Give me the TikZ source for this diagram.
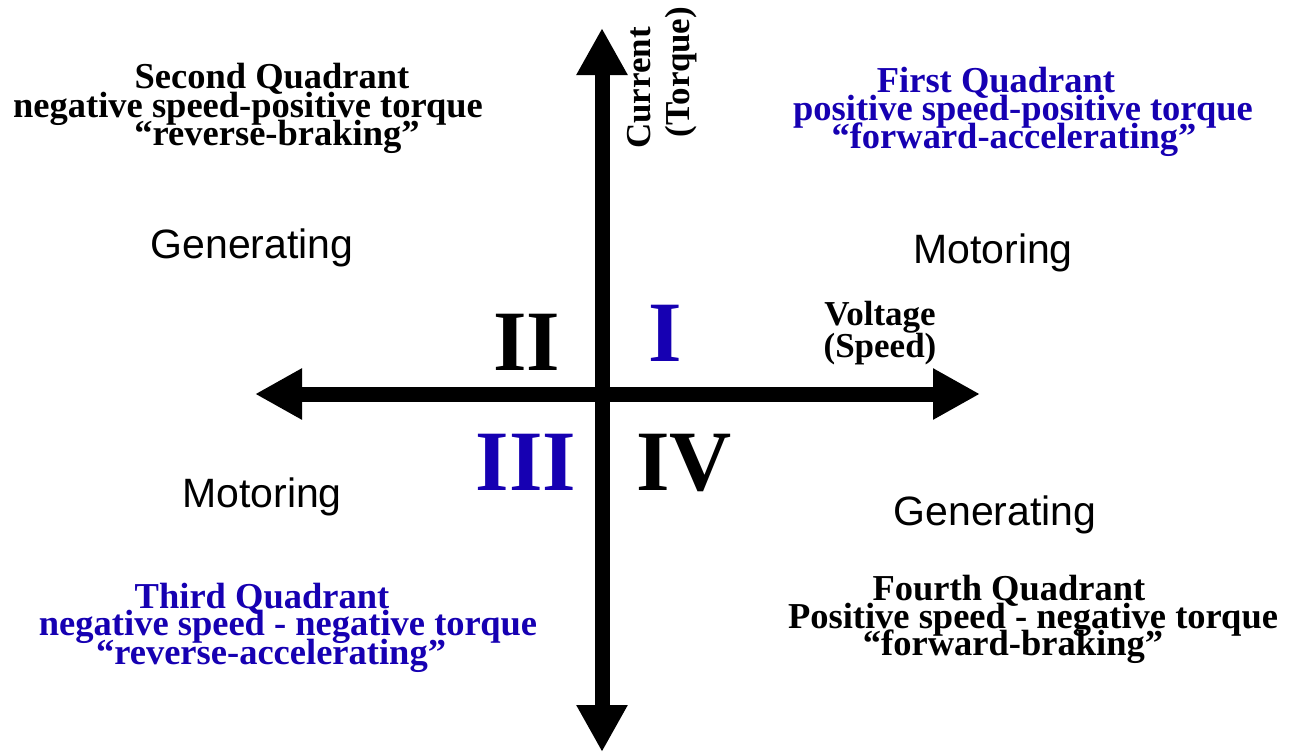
\documentclass[tikz,border=0pt]{standalone}
\usepackage{fontspec}
\setmainfont{Liberation Serif}
\setsansfont{Liberation Sans}
\usetikzlibrary{arrows.meta}
\definecolor{qblue}{RGB}{22,0,178}
\tikzset{
  axis/.style={line width=15pt, {Triangle[length=47pt,width=48pt]}-{Triangle[length=47pt,width=48pt]}},
  qtext/.style={inner sep=0pt, anchor=base, font=\fontsize{36.5}{29}\bfseries},
  atext/.style={inner sep=0pt, anchor=base, font=\fontsize{35}{32}\bfseries},
  mode/.style={inner sep=0pt, anchor=base, font=\fontsize{41}{45}\sffamily},
  roman/.style={inner sep=0pt, anchor=base, font=\fontsize{86}{90}\bfseries},
}
\begin{document}
\begin{tikzpicture}[x=1pt,y=-1pt]
\useasboundingbox (0,0) rectangle (1299,755);
% axes
\coordinate (top) at (602,28);
\coordinate (bottom) at (602,752);
\coordinate (left) at (255,394);
\coordinate (right) at (980,394);
\draw[axis] (bottom) -- (top);
\draw[axis] (left) -- (right);
% axis labels
\node[atext, rotate=90] (cur) at (650,88) {Current};
\node[atext, rotate=90] (torq) at (689,72) {(Torque)};
\node[atext] (volt) at (880,325) {Voltage};
\node[atext] (speed) at (880,357) {(Speed)};
% roman numerals
\node[roman] (q2n) at (527,370) {II};
\node[roman, text=qblue] (q1n) at (665,361) {I};
\node[roman, text=qblue] (q3n) at (526,490) {III};
\node[roman] (q4n) at (684,490) {IV};
% modes
\node[mode] (gen2) at (252,258) {Generating};
\node[mode] (mot1) at (993,263) {Motoring};
\node[mode] (mot3) at (262,507) {Motoring};
\node[mode] (gen4) at (995,525) {Generating};
% second quadrant
\node[qtext] (q2a) at (272,88) {Second Quadrant};
\node[qtext] (q2b) at (248,117) {negative speed-positive torque};
\node[qtext] (q2c) at (277,145) {“reverse-braking”};
% first quadrant
\node[qtext, text=qblue] (q1a) at (996,92) {First Quadrant};
\node[qtext, text=qblue] (q1b) at (1023,120) {positive speed-positive torque};
\node[qtext, text=qblue] (q1c) at (1014,148) {“forward-accelerating”};
% third quadrant
\node[qtext, text=qblue] (q3a) at (262,608) {Third Quadrant};
\node[qtext, text=qblue] (q3b) at (288,635) {negative speed - negative torque};
\node[qtext, text=qblue] (q3c) at (271,664) {“reverse-accelerating”};
% fourth quadrant
\node[qtext] (q4a) at (1009,600) {Fourth Quadrant};
\node[qtext] (q4b) at (1033,628) {Positive speed - negative torque};
\node[qtext] (q4c) at (1013,655) {“forward-braking”};
\end{tikzpicture}
\end{document}
